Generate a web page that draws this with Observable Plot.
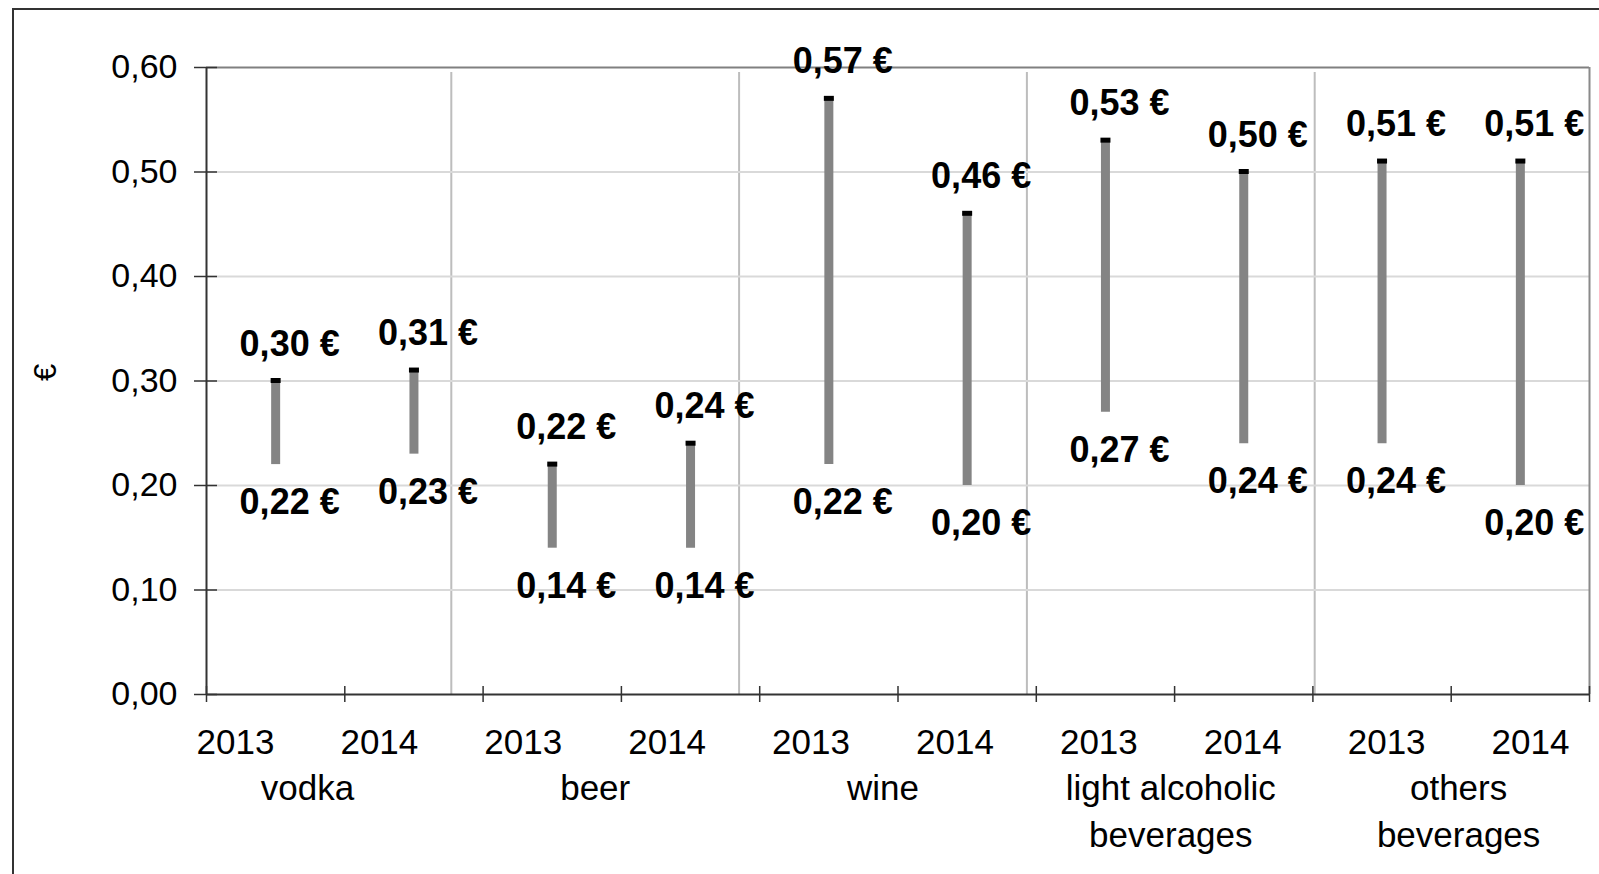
<!DOCTYPE html>
<html>
<head>
<meta charset="utf-8">
<script src="https://cdn.jsdelivr.net/npm/d3@7"></script>
<script src="https://cdn.jsdelivr.net/npm/@observablehq/plot@0.6"></script>
<style>
  html, body { margin: 0; padding: 0; background: #fff; overflow: hidden; }
  #wrap { position: relative; width: 1599px; height: 874px; }
  #wrap svg { position: absolute; left: 0; top: 0; }
  #border { position: absolute; left: 12px; top: 8px; width: 1620px; height: 900px; border: 2px solid #333; box-sizing: border-box; pointer-events: none; }
</style>
</head>
<body>
<div id="wrap"><div id="border"></div></div>
<script>
// ---- data ----
const groups = ["vodka", "beer", "wine", "light alcoholic\nbeverages", "others\nbeverages"];
const years = ["2013", "2014"];
const highs = [0.30, 0.31, 0.22, 0.24, 0.57, 0.46, 0.53, 0.50, 0.51, 0.51];
const lows  = [0.22, 0.23, 0.14, 0.14, 0.22, 0.20, 0.27, 0.24, 0.24, 0.20];
const yTicks = [0, 0.1, 0.2, 0.3, 0.4, 0.5, 0.6];
const yTitle = "€";

const rows = groups.flatMap((g, gi) => years.map((yr, yi) => {
  const slot = gi * 2 + yi;
  return { group: g, year: yr, slot, high: highs[slot], low: lows[slot] };
}));
const groupRows = groups.map((g, gi) => ({ group: g, gi }));
const boundaries = d3.range(rows.length + 1);
const groupSeparators = d3.range(1, groups.length).map(g => g * years.length);

const fmt = v => v.toFixed(2).replace(".", ",");
const font = "Liberation Sans, Arial, sans-serif";

// ---- category label layer (Excel's label layout) ----
const labels = Plot.plot({
  width: 1599, height: 874,
  style: { fontFamily: font, background: "transparent", color: "#000" },
  x: { domain: [0, rows.length], range: [163, 1602], axis: null },
  y: { domain: [0, 0.6], range: [694, 67], axis: null },
  marks: [
    Plot.ruleX(groupSeparators, { y1: 0, y2: 0.6, insetBottom: -5, stroke: "#bdbdbd", strokeWidth: 2 }),
    Plot.text(rows, { x: d => d.slot + 0.5, y: 0, text: "year", dy: 48, fontSize: 35, fill: "#000" }),
    Plot.text(groupRows, { x: d => d.gi * 2 + 1, y: 0, text: "group", lineAnchor: "top", dy: 71, lineHeight: 1.37, fontSize: 35, fill: "#000" })
  ]
});

// ---- main chart ----
const chart = Plot.plot({
  width: 1599, height: 874,
  marginLeft: 206, marginRight: 10, marginTop: 67, marginBottom: 180,
  style: { fontFamily: font, background: "transparent", color: "#000" },
  x: { domain: [0, rows.length], axis: null },
  y: { domain: [0, 0.6], axis: null },
  marks: [
    Plot.ruleY(yTicks.filter(t => t > 0 && t < 0.6), { stroke: "#d9d9d9", strokeWidth: 2 }),
    Plot.ruleY([0.6], { stroke: "#808080", strokeWidth: 2 }),
    Plot.ruleX([rows.length], { stroke: "#8a8a8a", strokeWidth: 2 }),
    Plot.ruleX([0], { stroke: "#333", strokeWidth: 2 }),
    Plot.ruleY([0], { stroke: "#333", strokeWidth: 2 }),
    Plot.ruleY(yTicks, { x1: 0, x2: 0, insetLeft: -12, insetRight: -11, stroke: "#333", strokeWidth: 1.5 }),
    Plot.ruleX(boundaries, { y1: 0, y2: 0, insetTop: -8, insetBottom: -8, stroke: "#333", strokeWidth: 1.5 }),
    Plot.axisY(yTicks, { tickSize: 0, tickPadding: 29, tickFormat: fmt, fontSize: 34 }),
    Plot.text([yTitle], { frameAnchor: "left", dx: -160, rotate: -90, fontSize: 31, fill: "#000" }),
    // bars (low -> high)
    Plot.ruleX(rows, { x: d => d.slot + 0.5, y1: "low", y2: "high", stroke: "url(#dither)", strokeWidth: 9 }),
    // top cap
    Plot.ruleX(rows, { x: d => d.slot + 0.5, y1: "high", y2: "high", insetTop: -2.5, insetBottom: -2.5, stroke: "#000", strokeWidth: 10 }),
    // value labels
    Plot.text(rows, { x: d => d.slot + 0.5, y: "high", text: d => fmt(d.high) + " €", dx: 14, dy: -37, fontSize: 36, fontWeight: "bold", fill: "#000" }),
    Plot.text(rows, { x: d => d.slot + 0.5, y: "low", text: d => fmt(d.low) + " €", dx: 14, dy: 38, fontSize: 36, fontWeight: "bold", fill: "#000" })
  ]
});

// dither pattern for the bars
const defs = d3.select(chart).insert("defs", ":first-child");
const pat = defs.append("pattern").attr("id", "dither").attr("patternUnits", "userSpaceOnUse")
  .attr("width", 2).attr("height", 2);
pat.append("rect").attr("width", 2).attr("height", 2).attr("fill", "#d4d4d4");
pat.append("rect").attr("width", 1).attr("height", 1).attr("fill", "#333");
pat.append("rect").attr("x", 1).attr("y", 1).attr("width", 1).attr("height", 1).attr("fill", "#333");

const wrap = document.getElementById("wrap");
wrap.insertBefore(labels, wrap.firstChild);
wrap.insertBefore(chart, document.getElementById("border"));
</script>
</body>
</html>
